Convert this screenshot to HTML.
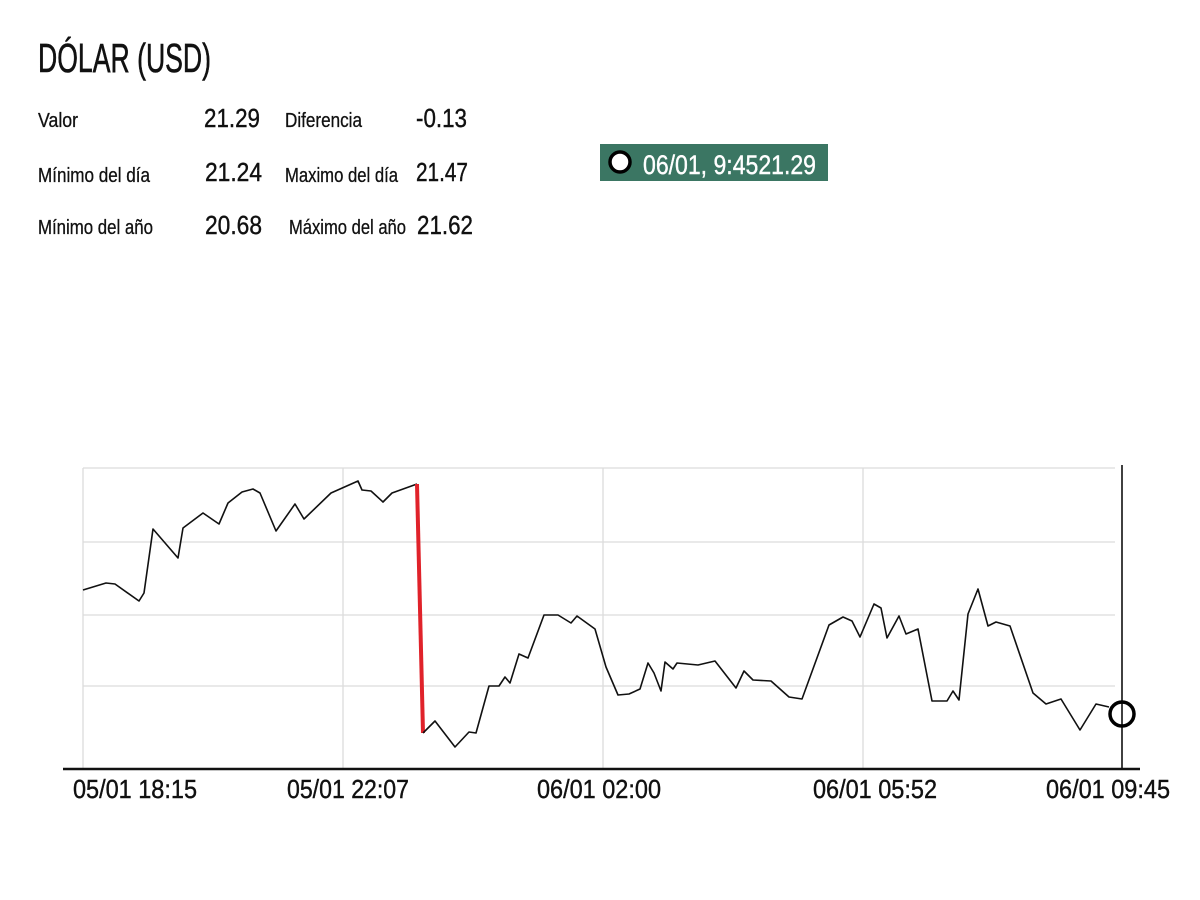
<!DOCTYPE html>
<html><head><meta charset="utf-8"><style>
html,body{margin:0;padding:0;background:#fff;width:1200px;height:900px;overflow:hidden}
svg{display:block}
text{font-family:"Liberation Sans",sans-serif;fill:#111}
</style></head><body>
<svg width="1200" height="900" viewBox="0 0 1200 900" xmlns="http://www.w3.org/2000/svg">
<text x="38" y="72" font-size="41" stroke="#111" stroke-width="0.6" textLength="173" lengthAdjust="spacingAndGlyphs">DÓLAR (USD)</text>
<g font-size="20" stroke="#111" stroke-width="0.3">
<text x="38" y="127" textLength="40" lengthAdjust="spacingAndGlyphs">Valor</text>
<text x="38" y="182" textLength="112" lengthAdjust="spacingAndGlyphs">Mínimo del día</text>
<text x="38" y="234" textLength="115" lengthAdjust="spacingAndGlyphs">Mínimo del año</text>
<text x="285" y="127" textLength="77" lengthAdjust="spacingAndGlyphs">Diferencia</text>
<text x="285" y="182" textLength="113" lengthAdjust="spacingAndGlyphs">Maximo del día</text>
<text x="289" y="234" textLength="117" lengthAdjust="spacingAndGlyphs">Máximo del año</text>
</g>
<g font-size="26" stroke="#111" stroke-width="0.4">
<text x="204" y="127" textLength="56" lengthAdjust="spacingAndGlyphs">21.29</text>
<text x="205" y="181" textLength="57" lengthAdjust="spacingAndGlyphs">21.24</text>
<text x="205" y="234" textLength="57" lengthAdjust="spacingAndGlyphs">20.68</text>
<text x="416" y="127" textLength="51" lengthAdjust="spacingAndGlyphs">-0.13</text>
<text x="416" y="181" textLength="52" lengthAdjust="spacingAndGlyphs">21.47</text>
<text x="417" y="234" textLength="56" lengthAdjust="spacingAndGlyphs">21.62</text>
</g>
<rect x="600" y="144" width="228" height="37" fill="#3b7663"/>
<circle cx="620" cy="162" r="10" fill="#fff" stroke="#000" stroke-width="3.5"/>
<text x="643" y="174" font-size="27" style="fill:#fff" stroke="#fff" stroke-width="0.4" textLength="173" lengthAdjust="spacingAndGlyphs">06/01, 9:4521.29</text>
<g stroke="#dcdcdc" stroke-width="1.3" fill="none">
<line x1="83" y1="468" x2="1115" y2="468"/>
<line x1="83" y1="542" x2="1115" y2="542"/>
<line x1="83" y1="615" x2="1115" y2="615"/>
<line x1="83" y1="686" x2="1115" y2="686"/>
<line x1="83" y1="468" x2="83" y2="768"/>
<line x1="343" y1="468" x2="343" y2="768"/>
<line x1="603" y1="468" x2="603" y2="768"/>
<line x1="863" y1="468" x2="863" y2="768"/>
</g>
<polyline fill="none" stroke="#111" stroke-width="1.6" stroke-linejoin="round" points="83,590 106,583 115,584 139,601 144,593 153,529 178,558 183,528 203,513 219,524 228,503 242,492 253,489 260,493 276,531 295,504 304,519 331,493 358,481 362,490 371,491 383,502 392,493 417,484"/>
<line x1="417" y1="484" x2="423" y2="733" stroke="#e0222a" stroke-width="4"/>
<polyline fill="none" stroke="#111" stroke-width="1.6" stroke-linejoin="round" points="423,733 435,721 455,747 469,732 476,733 489,686 499,686 505,677 510,683 519,654 528,658 544,615 558,615 571,623 577,616 595,629 606,667 618,695 629,694 640,689 648,663 654,673 661,691 665,662 673,669 677,663 698,665 715,661 736,688 744,671 753,680 771,681 789,697 802,699 829,625 843,617 852,621 860,637 874,604 881,608 887,638 899,616 906,634 918,629 932,701 947,701 953,691 959,700 968,614 978,589 988,626 996,622 1010,626 1033,693 1046,704 1061,699 1080,730 1096,704 1109,707"/>
<line x1="1122" y1="465" x2="1122" y2="770" stroke="#111" stroke-width="1.6"/>
<circle cx="1122" cy="714" r="12" fill="none" stroke="#000" stroke-width="3.5"/>
<line x1="63" y1="769" x2="1140" y2="769" stroke="#111" stroke-width="2.5"/>
<g font-size="26" stroke="#111" stroke-width="0.4">
<text x="73" y="798" textLength="124" lengthAdjust="spacingAndGlyphs">05/01 18:15</text>
<text x="287" y="798" textLength="122" lengthAdjust="spacingAndGlyphs">05/01 22:07</text>
<text x="537" y="798" textLength="124" lengthAdjust="spacingAndGlyphs">06/01 02:00</text>
<text x="813" y="798" textLength="124" lengthAdjust="spacingAndGlyphs">06/01 05:52</text>
<text x="1046" y="798" textLength="124" lengthAdjust="spacingAndGlyphs">06/01 09:45</text>
</g>
</svg>
</body></html>
